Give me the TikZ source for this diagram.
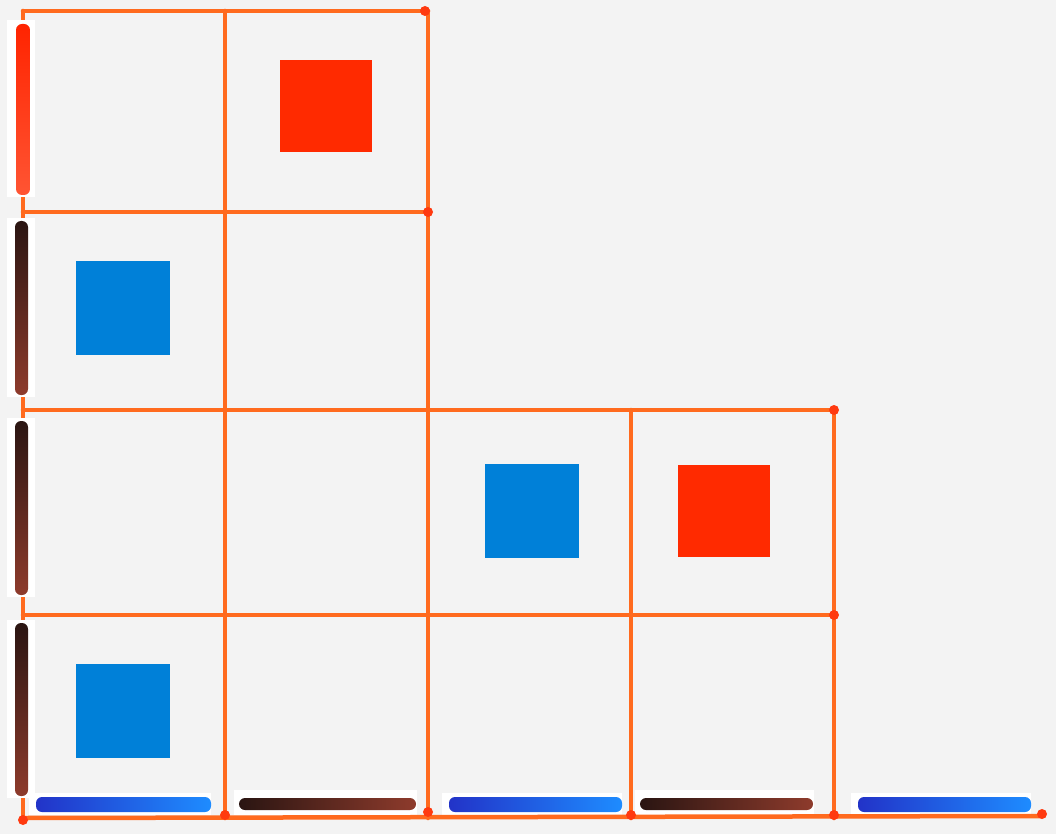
\documentclass[tikz,border=0pt]{standalone}
\usepackage{xcolor}
\usepackage{tikz}
\usetikzlibrary{positioning,calc}

\definecolor{gridline}{HTML}{FF6A1E}
\definecolor{jointdot}{HTML}{FF3A10}
\definecolor{tilered}{HTML}{FF2A00}
\definecolor{tileblue}{HTML}{0080D8}
\definecolor{paper}{HTML}{F3F3F3}
\definecolor{inkdark}{HTML}{2A1512}
\definecolor{inkbrown}{HTML}{8E3B2C}
\definecolor{inkblue}{HTML}{2233C8}
\definecolor{inklight}{HTML}{1E8CFF}

\begin{document}
\begin{tikzpicture}[
    x=1pt, y=-1pt,
    grid/.style={draw=gridline, line width=4.5pt, line cap=round},
    joint/.style={fill=jointdot},
    tile/.style={draw=none},
    markbox/.style={fill=white, draw=none},
    stroke/.style={rounded corners=6pt}
]

% ---- paper ----
\fill[paper] (0,0) rectangle (1056,834);
\useasboundingbox (0,0) rectangle (1056,834);

% ---- grid, left block (two columns, four rows) ----
\draw[grid] (23,11) -- (428,11);
\draw[grid] (23,212) -- (428,212);
\draw[grid] (23,410) -- (834,410);
\draw[grid] (23,615) -- (834,615);
\draw[grid] (23,11) -- (23,818);
\draw[grid] (225,11) -- (225,818);
\draw[grid] (428,11) -- (428,818);
\draw[grid] (631,410) -- (631,818);
\draw[grid] (834,410) -- (834,818);

% ---- tiles ----
\fill[tile, tilered]  (280,60)  rectangle (372,152);
\fill[tile, tileblue] (76,261)  rectangle (170,355);
\fill[tile, tileblue] (485,464) rectangle (579,558);
\fill[tile, tilered]  (678,465) rectangle (770,557);
\fill[tile, tileblue] (76,664)  rectangle (170,758);

% ---- left edge marks ----
\fill[markbox] (7,20) rectangle (35,197);
\shade[stroke, top color=tilered!85!red, bottom color=tilered!80!white] (16,24) rectangle (30,195);
\foreach \ya/\yb in {218/397, 418/597, 620/798} {
    \fill[markbox] (7,\ya) rectangle (35,\yb);
    \shade[stroke, top color=inkdark, bottom color=inkbrown] (15,\ya+3) rectangle (28,\yb-2);
}

% ---- bottom edge marks ----
\foreach \xa/\xb in {29/211, 442/622, 851/1031} {
    \fill[markbox] (\xa,793) rectangle (\xb,815);
    \shade[stroke, left color=inkblue, right color=inklight] (\xa+7,797) rectangle (\xb,812);
}
\foreach \xa/\xb in {234/417, 635/814} {
    \fill[markbox] (\xa,790) rectangle (\xb,815);
    \shade[stroke, left color=inkdark, right color=inkbrown] (\xa+5,798) rectangle (\xb-1,810);
}

% ---- base line and joints ----
\draw[grid] (23,818) -- (1042,816);
\foreach \jx/\jy in {425/11, 428/212, 834/410, 834/615, 225/815, 428/812, 631/815, 834/815, 1042/814, 23/820}
    \fill[joint] (\jx,\jy) circle (5);

\end{tikzpicture}
\end{document}
